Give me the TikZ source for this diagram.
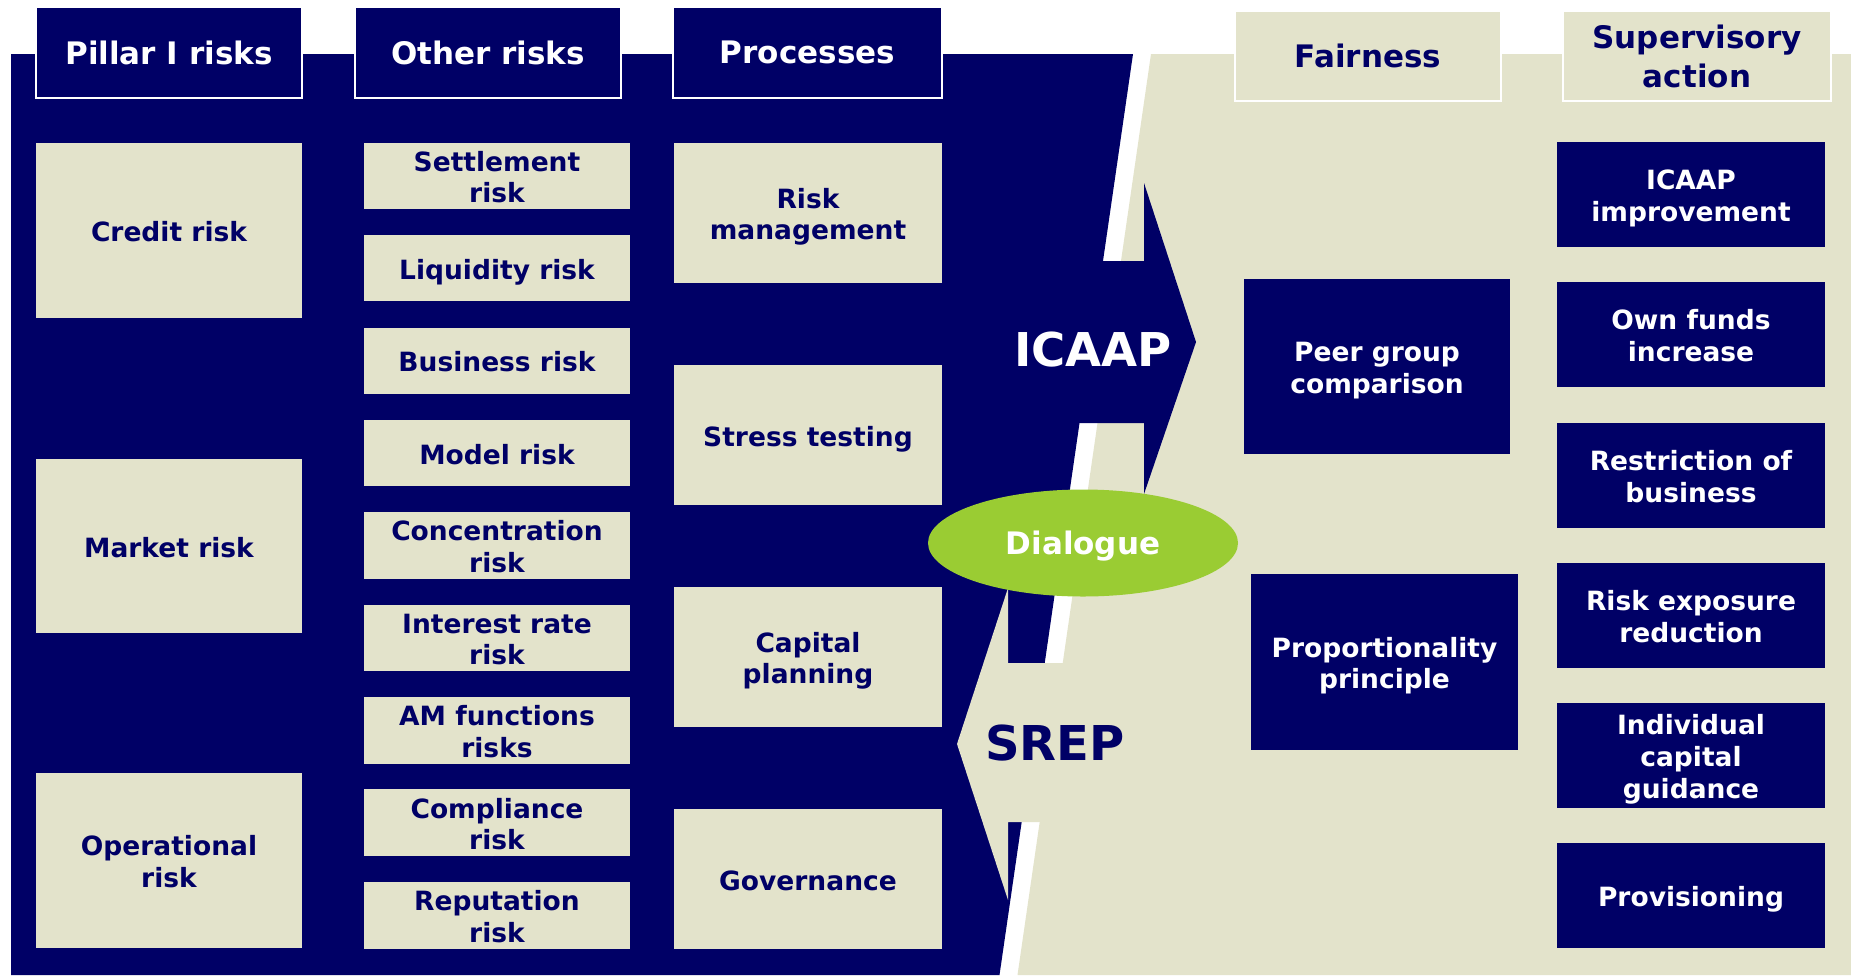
\documentclass[tikz,border=0pt]{standalone}
\usepackage{fontspec}
\setmainfont{DejaVu Sans}
\usetikzlibrary{shapes.geometric}

\definecolor{navy}{RGB}{0,0,102}
\definecolor{sand}{RGB}{227,227,203}
\definecolor{leaf}{RGB}{154,204,51}

% \panel{name}{x1}{y1}{x2}{y2}{style}{text}: a box given by its corners
\newcommand\panel[7]{%
  \node[#6, minimum width={(#4-#2)*0.5pt}, minimum height={(#5-#3)*0.5pt}]
    (#1) at ({(#2+#4)/2},{(#3+#5)/2}) {#7};}
% \cell: the same, with invisible struts that set the lines a little low
\newcommand\cell[7]{%
  \panel{#1}{#2}{#3}{#4}{#5}{#6}{\rule{0pt}{14.3pt}#7\rule[-3.2pt]{0pt}{0pt}}}

\tikzset{
  base/.style={rectangle, inner sep=0pt, outer sep=0pt, align=center,
    font=\bfseries\fontsize{13.25}{15.85}\selectfont},
  riskbox/.style={base, fill=sand, text=navy},
  actbox/.style={base, fill=navy, text=white},
  headfont/.style={font=\bfseries\fontsize{15.5}{19.5}\selectfont},
  headdark/.style={base, headfont, fill=navy, draw=white, line width=1pt, text=white},
  headlight/.style={base, headfont, fill=sand, draw=white, line width=1.2pt, text=navy},
}

\begin{document}
\begin{tikzpicture}[x=0.5pt, y=-0.5pt]
\useasboundingbox (0,0) rectangle (1851,975);
\fill[white] (0,0) rectangle (1851,975);

% supervisory side and institution side, split by a slanted white gap
\fill[sand] (1151,54) -- (1851,54) -- (1851,975) -- (1017.5,975) -- cycle;
\fill[navy] (11,54) -- (1133,54) -- (999.5,975) -- (11,975) -- cycle;

% ICAAP arrow pointing right, SREP arrow pointing left
\fill[navy] (1060,261) -- (1144,261) -- (1144,183) -- (1196,342)
  -- (1144,494) -- (1144,423) -- (1060,423) -- cycle;
\fill[sand] (1110,663) -- (1008,663) -- (1008,588) -- (957,744)
  -- (1008,900) -- (1008,822) -- (1110,822) -- cycle;

\node[text=white, font=\bfseries\fontsize{23.3}{28}\selectfont, inner sep=0pt] (icaap) at (1093,350) {ICAAP};
\node[text=navy, font=\bfseries\fontsize{24}{28}\selectfont, inner sep=0pt] (srep) at (1055,743) {SREP};

\node[ellipse, fill=leaf, inner sep=0pt, minimum width=155pt, minimum height=53.5pt,
  text=white, font=\bfseries\fontsize{15.5}{18}\selectfont,
  text height=11.35pt, text depth=0pt] (dialogue) at (1083,543) {Dialogue};

% column headers
\panel{hpillar}{36}{7}{302}{98}{headdark}{Pillar I risks}
\panel{hother}{355}{7}{621}{98}{headdark}{Other risks}
\panel{hproc}{673}{7}{942}{98}{headdark}{Processes}
\panel{hfair}{1235}{11}{1501}{101}{headlight}{Fairness}
\panel{hsup}{1563}{11}{1831}{101}{headlight}{Supervisory\\action}

% Pillar I risks
\cell{credit}{36}{143}{302}{318}{riskbox}{Credit risk}
\cell{market}{36}{459}{302}{633}{riskbox}{Market risk}
\cell{oper}{36}{773}{302}{948}{riskbox}{Operational\\risk}

% other risks
\cell{settle}{364}{143}{630}{209}{riskbox}{Settlement\\risk}
\cell{liquid}{364}{235.4}{630}{301.4}{riskbox}{Liquidity risk}
\cell{business}{364}{327.8}{630}{393.8}{riskbox}{Business risk}
\cell{model}{364}{420.2}{630}{486.2}{riskbox}{Model risk}
\cell{conc}{364}{512.6}{630}{578.6}{riskbox}{Concentration\\risk}
\cell{irr}{364}{605}{630}{671}{riskbox}{Interest rate\\risk}
\cell{amf}{364}{697.4}{630}{763.4}{riskbox}{AM functions\\risks}
\cell{compl}{364}{789.8}{630}{855.8}{riskbox}{Compliance\\risk}
\cell{repu}{364}{882.2}{630}{948.2}{riskbox}{Reputation\\risk}

% processes
\cell{riskman}{674}{143}{942}{283}{riskbox}{Risk\\management}
\cell{stress}{674}{365}{942}{505}{riskbox}{Stress testing}
\cell{capplan}{674}{587}{942}{727}{riskbox}{Capital\\planning}
\cell{gov}{674}{809}{942}{949}{riskbox}{Governance}

% fairness
\cell{peer}{1244}{279}{1510}{454}{actbox}{Peer group\\comparison}
\cell{prop}{1251}{574}{1518}{750}{actbox}{Proportionality\\principle}

% supervisory action
\cell{icaapimp}{1557}{142}{1825}{247}{actbox}{ICAAP\\improvement}
\cell{ownfunds}{1557}{282}{1825}{387}{actbox}{Own funds\\increase}
\cell{restrict}{1557}{423}{1825}{528}{actbox}{Restriction of\\business}
\cell{riskexp}{1557}{563}{1825}{668}{actbox}{Risk exposure\\reduction}
\cell{indcap}{1557}{703}{1825}{808}{actbox}{Individual\\capital\\guidance}
\cell{prov}{1557}{843}{1825}{948}{actbox}{Provisioning}
\end{tikzpicture}
\end{document}
